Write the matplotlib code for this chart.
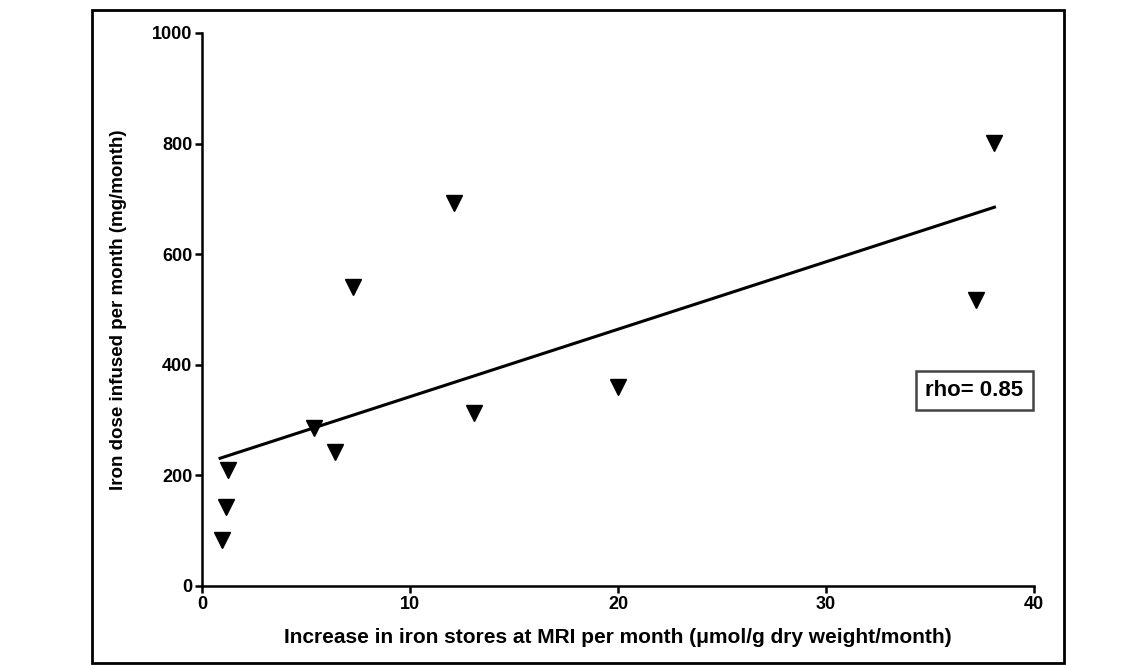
import matplotlib
matplotlib.use("Agg")
import matplotlib.pyplot as plt
from matplotlib.patches import Rectangle

# values
iron_increase = [0.96, 1.15, 1.25, 5.4, 6.4, 7.25, 12.1, 13.06, 20.0, 37.2, 38.1]
iron_dose = [83, 143, 210, 286, 242, 541, 693, 313, 360, 517, 801]
fit_x = [0.87, 38.1]
fit_y = [231, 685]
rho_text = "rho= 0.85"

plt.rcParams['font.family'] = ['Liberation Sans', 'DejaVu Sans']
plt.rcParams['font.weight'] = 'bold'

fig = plt.figure(figsize=(11.4, 6.65), dpi=100, facecolor='white')
ax = fig.add_axes([0.1772, 0.1188, 0.7298, 0.8316])

ax.plot(iron_increase, iron_dose, linestyle='none', marker='v', ms=11,
        color='black', clip_on=False, zorder=3)
ax.plot(fit_x, fit_y, '-', color='black', lw=2.2, zorder=2)

ax.set_xlim(0, 40)
ax.set_ylim(0, 1000)
ax.set_xticks([0, 10, 20, 30, 40])
ax.set_yticks([0, 200, 400, 600, 800, 1000])
for side in ['top', 'right']:
    ax.spines[side].set_visible(False)
for side in ['left', 'bottom']:
    ax.spines[side].set_linewidth(1.8)
ax.tick_params(width=1.8, length=5, labelsize=13, pad=2)
for lab in ax.get_xticklabels() + ax.get_yticklabels():
    lab.set_fontweight('bold')

ax.set_xlabel("Increase in iron stores at MRI per month (\u03bcmol/g dry weight/month)",
              fontsize=15, fontweight='bold', va='center')
ax.set_ylabel("Iron dose infused per month (mg/month)",
              fontsize=13.5, fontweight='bold', va='center')
ax.xaxis.set_label_coords(0.5, -0.093)
ax.yaxis.set_label_coords(-0.1, 0.5)

ax.text(0.9285, 0.3535, rho_text, transform=ax.transAxes, ha='center', va='center',
        fontsize=16, fontweight='bold',
        bbox=dict(boxstyle='square,pad=0.42', fc='white', ec='#444444', lw=1.8))

# outer frame around the whole figure
fig.patches.append(Rectangle((92 / 1140, 1 - 663 / 665), (1064 - 92) / 1140,
                             (663 - 10) / 665, transform=fig.transFigure,
                             fill=False, ec='black', lw=2))

plt.savefig("out.png", dpi=100, facecolor='white')
